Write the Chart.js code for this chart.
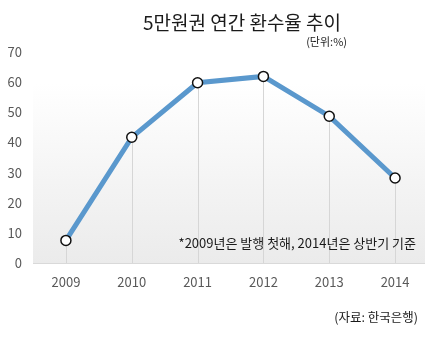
<!DOCTYPE html>
<html>
<head>
<meta charset="utf-8">
<script src="https://cdn.jsdelivr.net/npm/chart.js@4/dist/chart.umd.min.js"></script>
<style>
    html, body { margin: 0; padding: 0; background: #fff; }
    #wrap { width: 445px; height: 337px; position: relative; }
</style>
</head>
<body>
<div id="wrap"><canvas id="chart-return-rate"></canvas></div>
<script>
// 5만원권 연간 환수율 (단위: %)
const years = ['2009', '2010', '2011', '2012', '2013', '2014'];
const returnRates = [7.5, 41.7, 59.8, 61.9, 48.7, 28.2];
const yTicks = [0, 10, 20, 30, 40, 50, 60, 70];

const titleText = '5만원권 연간 환수율 추이';
const unitText = '(단위:%)';
const noteText = '*2009년은 발행 첫해, 2014년은 상반기 기준';
const sourceText = '(자료: 한국은행)';

const FONT = "'Noto Sans CJK KR', 'Noto Sans', sans-serif";

// 플롯 영역 배경 그라데이션
const backgroundPlugin = {
    id: 'plotBackground',
    beforeDraw(chart) {
        const { ctx, chartArea: a } = chart;
        const g = ctx.createLinearGradient(0, a.top, 0, a.bottom);
        g.addColorStop(0, '#ffffff');
        g.addColorStop(0.15, '#ffffff');
        g.addColorStop(1, '#ebebeb');
        ctx.save();
        ctx.fillStyle = g;
        ctx.fillRect(a.left, a.top, a.right - a.left - 3, a.bottom - a.top);
        ctx.restore();
    }
};

// 각 점에서 기준선까지 수직선
const dropLinePlugin = {
    id: 'dropLines',
    beforeDatasetsDraw(chart) {
        const { ctx, chartArea: a } = chart;
        const meta = chart.getDatasetMeta(0);
        ctx.save();
        ctx.strokeStyle = '#d6d6d6';
        ctx.lineWidth = 1;
        meta.data.forEach(pt => {
            const x = Math.round(pt.x) + 0.5;
            ctx.beginPath();
            ctx.moveTo(x, pt.y);
            ctx.lineTo(x, a.bottom);
            ctx.stroke();
        });
        // x축 기준선
        ctx.strokeStyle = '#d9d9d9';
        ctx.beginPath();
        ctx.moveTo(a.left, Math.round(a.bottom) + 0.5);
        ctx.lineTo(a.right - 3, Math.round(a.bottom) + 0.5);
        ctx.stroke();
        ctx.restore();
    }
};

// 제목, 단위, 주석, 출처 텍스트
const textPlugin = {
    id: 'labels',
    afterDraw(chart) {
        const { ctx } = chart;
        ctx.save();
        ctx.textBaseline = 'middle';

        ctx.fillStyle = '#1a1a1a';
        ctx.font = `19px ${FONT}`;
        ctx.textAlign = 'center';
        ctx.fillText(titleText, 242, 23);

        ctx.font = `11px ${FONT}`;
        ctx.textAlign = 'right';
        ctx.fillText(unitText, 347, 42);

        ctx.font = `13px ${FONT}`;
        ctx.fillText(noteText, 416, 243);

        ctx.font = `12.5px ${FONT}`;
        ctx.fillText(sourceText, 418, 317);
        ctx.restore();
    }
};

new Chart(document.getElementById('chart-return-rate'), {
    type: 'line',
    data: {
        labels: years,
        datasets: [{
            data: returnRates,
            borderColor: '#5a98cd',
            borderWidth: 5,
            pointRadius: 5,
            pointBorderWidth: 1.5,
            pointBorderColor: '#111',
            pointBackgroundColor: '#fff',
            tension: 0,
            fill: false
        }]
    },
    options: {
        responsive: true,
        maintainAspectRatio: false,
        animation: false,
        devicePixelRatio: 1,
        layout: { padding: { top: 52, right: 17, bottom: 0, left: 0 } },
        plugins: {
            legend: { display: false },
            tooltip: { enabled: false }
        },
        scales: {
            x: {
                offset: true,
                grid: { display: false, drawTicks: false },
                border: { display: false },
                ticks: { color: '#595959', font: { family: FONT, size: 13 }, padding: 11 },
                afterFit: (scale) => { scale.height = 74; }
            },
            y: {
                min: 0,
                max: 70,
                afterBuildTicks: (scale) => { scale.ticks = yTicks.map(v => ({ value: v })); },
                grid: { display: false, drawTicks: false },
                border: { display: false },
                ticks: { color: '#595959', font: { family: FONT, size: 13 }, padding: 11 },
                afterFit: (scale) => { scale.width = 33; }
            }
        }
    },
    plugins: [backgroundPlugin, dropLinePlugin, textPlugin]
});
</script>
</body>
</html>
